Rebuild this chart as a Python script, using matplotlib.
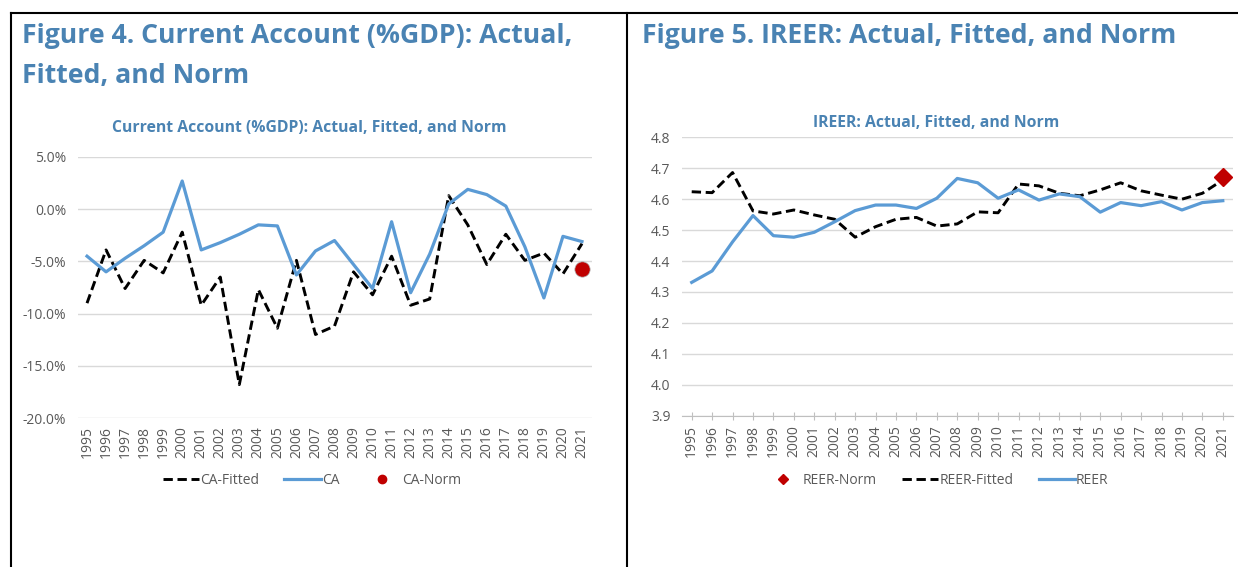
import matplotlib.pyplot as plt
from matplotlib.lines import Line2D

plt.rcParams['font.family'] = ['Open Sans', 'DejaVu Sans']

# data
years = [str(y) for y in range(1995, 2022)]

ca = [-4.5, -6.0, -4.7, -3.5, -2.2, 2.7, -3.9, -3.2, -2.4, -1.5, -1.6, -6.3, -4.0, -3.0,
      -5.3, -7.6, -1.2, -8.0, -4.3, 0.5, 1.9, 1.4, 0.3, -3.6, -8.5, -2.6, -3.1]
ca_fitted = [-9.0, -3.9, -7.6, -4.9, -6.1, -2.2, -9.2, -6.5, -16.8, -7.7, -11.4, -4.9, -12.0, -11.2,
             -6.0, -8.2, -4.5, -9.2, -8.6, 1.3, -1.5, -5.3, -2.4, -4.9, -4.2, -6.2, -3.3]
ca_norm = -5.7

reer = [4.331, 4.368, 4.462, 4.547, 4.482, 4.477, 4.493, 4.527, 4.563, 4.581, 4.581, 4.570, 4.603, 4.667,
        4.653, 4.603, 4.630, 4.597, 4.617, 4.608, 4.558, 4.589, 4.579, 4.592, 4.565, 4.589, 4.595]
reer_fitted = [4.624, 4.621, 4.686, 4.562, 4.552, 4.565, 4.549, 4.535, 4.477, 4.511, 4.535, 4.541, 4.513, 4.520,
               4.559, 4.556, 4.649, 4.643, 4.619, 4.611, 4.630, 4.653, 4.627, 4.613, 4.600, 4.619, 4.662]
reer_norm = 4.673

ca_ticks = [5, 0, -5, -10, -15, -20]
reer_ticks = [3.9, 4.0, 4.1, 4.2, 4.3, 4.4, 4.5, 4.6, 4.7, 4.8]

blue = '#5B9BD5'
title_blue = '#4A83B3'
grey = '#595959'
W, H = 1238, 567

fig = plt.figure(figsize=(W / 100, H / 100), dpi=100)

# frame lines of the page
fig.add_artist(Line2D([11 / W, 1], [1 - 13 / H, 1 - 13 / H], color='black', lw=1.5))
fig.add_artist(Line2D([11 / W, 11 / W], [0, 1 - 13 / H], color='black', lw=1.5))
fig.add_artist(Line2D([627 / W, 627 / W], [0, 1 - 13 / H], color='black', lw=1.5))

# big figure titles
fig.text(22 / W, 1 - 36 / H, 'Figure 4. Current Account (%GDP): Actual,', fontsize=19.2,
         fontweight='bold', color=title_blue, va='center', ha='left')
fig.text(22 / W, 1 - 76 / H, 'Fitted, and Norm', fontsize=19.2,
         fontweight='bold', color=title_blue, va='center', ha='left')
fig.text(642 / W, 1 - 36 / H, 'Figure 5. IREER: Actual, Fitted, and Norm', fontsize=19.2,
         fontweight='bold', color=title_blue, va='center', ha='left')

x = list(range(len(years)))
dash = (3.2, 1.6)


def style_axes(ax):
    for s in ax.spines.values():
        s.set_visible(False)
    ax.grid(axis='y', color='#D9D9D9', lw=1)
    ax.set_axisbelow(True)
    ax.set_xlim(-0.5, len(years) - 0.5)
    ax.set_xticks(x)
    ax.set_xticklabels(years, rotation=90, fontsize=10, color=grey)
    ax.tick_params(axis='y', length=0, labelsize=10, labelcolor=grey, pad=8)


# Figure 4: current account
ax1 = fig.add_axes([77.5 / W, (H - 418) / H, 514 / W, 261 / H])
style_axes(ax1)
l1, = ax1.plot(x, ca_fitted, color='black', lw=2.1, dashes=dash, label='CA-Fitted')
l2, = ax1.plot(x, ca, color=blue, lw=2.3, label='CA')
ax1.plot([x[-1]], [ca_norm], 'o', color='#C00000', ms=11, mec='#B0B0B0', mew=0.5, ls='none')
ax1.set_ylim(-20, 5)
ax1.set_yticks(ca_ticks)
ax1.set_yticklabels([f'{t:.1f}%' for t in ca_ticks])
ax1.tick_params(axis='x', length=0, pad=6)
fig.text(309 / W, 1 - 128 / H, 'Current Account (%GDP): Actual, Fitted, and Norm', fontsize=11.3,
         fontweight='bold', color=title_blue, ha='center', va='center')
fig.legend(handles=[l1, l2, Line2D([], [], marker='o', color='#C00000', ls='none', ms=6)],
           labels=['CA-Fitted', 'CA', 'CA-Norm'], loc='center', bbox_to_anchor=(312 / W, 1 - 480 / H),
           ncol=3, frameon=False, fontsize=10, labelcolor=grey, handlelength=2.6,
           handletextpad=0.1, columnspacing=1.8)

# Figure 5: IREER
ax2 = fig.add_axes([681.5 / W, (H - 415.7) / H, 551.5 / W, 278.4 / H])
style_axes(ax2)
ax2.plot(x, reer_fitted, color='black', lw=2.1, dashes=dash)
ax2.plot(x, reer, color=blue, lw=2.3)
ax2.plot([x[-1]], [reer_norm], 'D', color='#C00000', ms=9, ls='none')
ax2.set_ylim(3.9, 4.8)
ax2.set_yticks(reer_ticks)
ax2.set_yticklabels([f'{t:.1f}' for t in reer_ticks])
ax2.spines['bottom'].set_visible(True)
ax2.spines['bottom'].set_color('#BFBFBF')
ax2.tick_params(axis='x', direction='inout', length=6, color='#BFBFBF', pad=4)
fig.text(936 / W, 1 - 123 / H, 'IREER: Actual, Fitted, and Norm', fontsize=11.3,
         fontweight='bold', color=title_blue, ha='center', va='center')
fig.legend(handles=[Line2D([], [], marker='D', color='#C00000', ls='none', ms=5),
                    Line2D([], [], color='black', lw=2.1, dashes=dash),
                    Line2D([], [], color=blue, lw=2.3)],
           labels=['REER-Norm', 'REER-Fitted', 'REER'], loc='center', bbox_to_anchor=(937 / W, 1 - 480 / H),
           ncol=3, frameon=False, fontsize=10, labelcolor=grey, handlelength=2.6,
           handletextpad=0.1, columnspacing=1.8)

fig.savefig('out.png', dpi=100)
